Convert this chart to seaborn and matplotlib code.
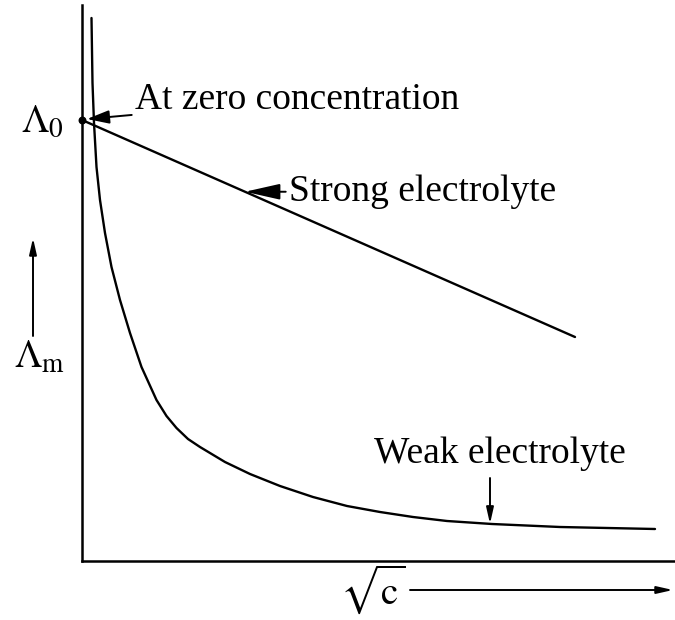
import numpy as np
import seaborn as sns
import matplotlib.pyplot as plt
import pandas as pd

# curve data (arbitrary units)
strong_x = [0.0, 9.86]
strong_y = [8.82, 4.48]

weak_x = [0.19, 0.21, 0.24, 0.29, 0.36, 0.46, 0.59, 0.76, 0.96, 1.19, 1.49,
          1.69, 1.89, 2.12, 2.36, 2.86, 3.36, 3.96, 4.62, 5.30, 5.96, 6.62,
          7.30, 8.20, 9.56, 11.46]
weak_y = [10.86, 9.56, 8.76, 7.88, 7.22, 6.56, 5.88, 5.22, 4.56, 3.88, 3.22,
          2.90, 2.66, 2.44, 2.28, 1.98, 1.74, 1.50, 1.28, 1.10, 0.98, 0.88,
          0.80, 0.74, 0.68, 0.64]

lambda0 = strong_y[0]

sns.set_theme(style="white")
plt.rcParams["font.family"] = ["Liberation Serif", "DejaVu Serif"]
plt.rcParams["mathtext.fontset"] = "stix"
plt.rcParams["text.color"] = "black"

df_strong = pd.DataFrame({"x": strong_x, "y": strong_y})
df_weak = pd.DataFrame({"x": weak_x, "y": weak_y})

fig = plt.figure(figsize=(6.75, 6.2), dpi=100)
ax = fig.add_axes([82 / 675, 59 / 620, 593 / 675, 556 / 620])

sns.lineplot(data=df_strong, x="x", y="y", color="black", lw=1.7, ax=ax)
sns.lineplot(data=df_weak, x="x", y="y", color="black", lw=1.7, ax=ax)
ax.scatter([0], [lambda0], color="black", s=22, zorder=5, clip_on=False)

ax.set_xlim(0, 11.86)
ax.set_ylim(0, 11.12)
ax.set_xticks([])
ax.set_yticks([])
ax.set_xlabel("")
ax.set_ylabel("")
for s in ["top", "right"]:
    ax.spines[s].set_visible(False)
for s in ["left", "bottom"]:
    ax.spines[s].set_color("black")
    ax.spines[s].set_linewidth(1.8)

arrow = dict(arrowstyle="-|>,head_length=0.8,head_width=0.18", color="black", lw=1.4,
             shrinkA=0, shrinkB=0)
small_arrow = dict(arrowstyle="-|>,head_length=0.5,head_width=0.15", color="black", lw=1.4,
                   shrinkA=0, shrinkB=0)

# annotations on the curves
ax.annotate("At zero concentration", xy=(0.1, lambda0 + 0.02), xytext=(1.06, 9.22),
            fontsize=27, va="center", ha="left", arrowprops=small_arrow)

sx = 3.26
sy = np.interp(sx, strong_x, strong_y)
ax.annotate("Strong electrolyte", xy=(sx, sy), xytext=(4.14, sy),
            fontsize=27, va="center", ha="left", arrowprops=arrow)

wx = 8.16
wy = np.interp(wx, weak_x, weak_y)
ax.annotate("", xy=(wx, wy), xytext=(wx, 1.66), arrowprops=arrow)
ax.text(8.36, 2.14, "Weak electrolyte", fontsize=27, ha="center", va="center")

# axis labels drawn like the sketch
fig.text(42 / 675, 1 - 122 / 620, r"$\Lambda_0$", fontsize=28, ha="center", va="center")
fig.text(40 / 675, 1 - 358 / 620, r"$\Lambda_{\rm m}$", fontsize=28, ha="center", va="center")
fig.text(373 / 675, 1 - 589 / 620, r"$\sqrt{\rm c}$", fontsize=28, ha="center", va="center")

ax.annotate("", xy=(33 / 675, 1 - 238 / 620), xytext=(33 / 675, 1 - 336 / 620),
            xycoords="figure fraction", textcoords="figure fraction", arrowprops=arrow)
ax.annotate("", xy=(673 / 675, 1 - 590 / 620), xytext=(410 / 675, 1 - 590 / 620),
            xycoords="figure fraction", textcoords="figure fraction", arrowprops=arrow)

fig.savefig("out.png", dpi=100, facecolor="white")
